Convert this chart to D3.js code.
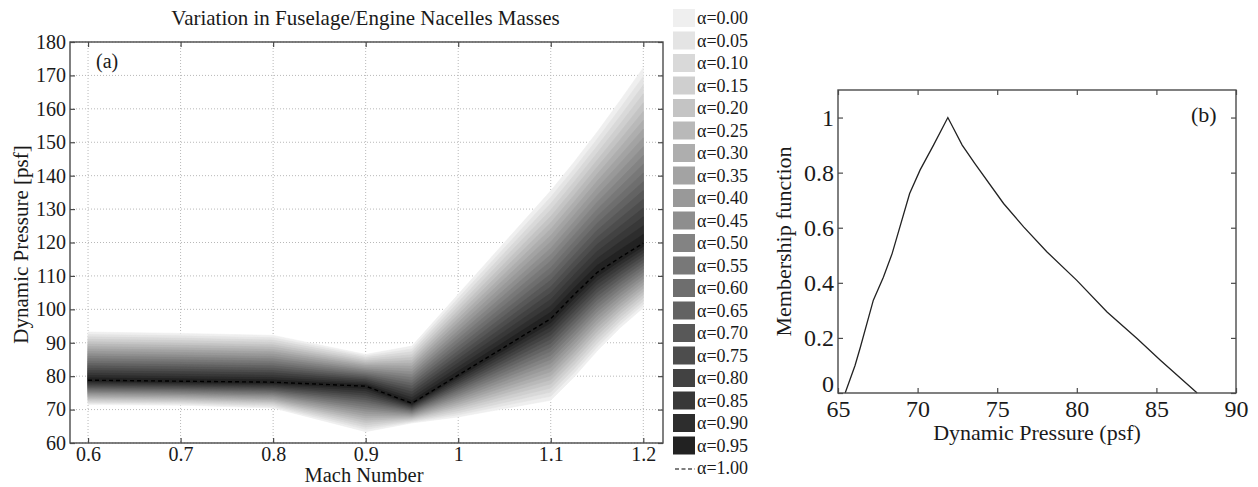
<!DOCTYPE html>
<html>
<head>
<meta charset="utf-8">
<script src="https://cdn.jsdelivr.net/npm/d3@7"></script>
<style>
  body { margin: 0; background: #fff; }
  svg text { font-family: "Liberation Serif", "Times New Roman", serif; fill: #1a1a1a; }
</style>
</head>
<body>
<svg id="chart" width="1258" height="487"></svg>
<script>
// ---- panel (a) data: alpha-cut bounds of dynamic pressure vs Mach ----
const mach      = [0.6, 0.7, 0.8, 0.9, 0.95, 1.0, 1.05, 1.1, 1.125, 1.15, 1.175, 1.2];
const qMode     = [78.8, 78.5, 78.2, 77.0, 71.9, 80.3, 88.7, 97.2, 104.3, 111.0, 115.5, 119.8];
const qLower    = [71.5, 71.3, 70.5, 63.4, 66.0, 67.8, 70.3, 72.8, 79.7, 87.5, 94.5, 100.5];
const qUpper    = [93.2, 92.8, 92.2, 86.5, 89.0, 104.5, 120.0, 135.5, 144.0, 153.0, 162.5, 172.3];
const alphaLevels = [0.00, 0.05, 0.10, 0.15, 0.20, 0.25, 0.30, 0.35, 0.40, 0.45,
                     0.50, 0.55, 0.60, 0.65, 0.70, 0.75, 0.80, 0.85, 0.90, 0.95];
const machTicks = [0.6, 0.7, 0.8, 0.9, 1.0, 1.1, 1.2];
const qTicks    = [60, 70, 80, 90, 100, 110, 120, 130, 140, 150, 160, 170, 180];

// ---- panel (b) data: membership function ----
const memPressure = [65.45, 66.07, 66.4, 67.22, 67.85, 68.4, 69.5, 70.16, 71.0, 71.9,
                     72.8, 73.6, 75.4, 76.66, 78.13, 80.0, 81.9, 83.8, 85.25, 87.56];
const memValue    = [0, 0.10, 0.165, 0.337, 0.42, 0.506, 0.724, 0.81, 0.90, 1.0,
                     0.90, 0.833, 0.688, 0.603, 0.512, 0.409, 0.294, 0.197, 0.119, 0];
const pTicks = [65, 70, 75, 80, 85, 90];
const mTicks = [0, 0.2, 0.4, 0.6, 0.8, 1];

const svg = d3.select("#chart");
const axisColor = "#4a4a4a";

// ================= panel (a) =================
const a = { left: 70, right: 663, top: 42, bottom: 443 };
const xA = d3.scaleLinear().domain([0.5805, 1.2213]).range([a.left, a.right]);
const yA = d3.scaleLinear().domain([60, 180]).range([a.bottom, a.top]);
const gray = d3.scaleLinear().domain([0, 0.95]).range(["#efefef", "#222222"]);

const gA = svg.append("g").attr("class", "panelA");

// grid
const grid = gA.append("g").attr("class", "grid")
  .attr("stroke", "#b8b8b8").attr("stroke-width", 1).attr("stroke-dasharray", "1,2");
grid.selectAll("line.v").data(machTicks).join("line").attr("class", "v")
  .attr("x1", d => xA(d)).attr("x2", d => xA(d)).attr("y1", a.top).attr("y2", a.bottom);
grid.selectAll("line.h").data(qTicks).join("line").attr("class", "h")
  .attr("x1", a.left).attr("x2", a.right).attr("y1", d => yA(d)).attr("y2", d => yA(d));

// alpha-cut bands, widest (lightest) first
const rows = mach.map((m, i) => ({ m, lo: qLower[i], md: qMode[i], hi: qUpper[i] }));
gA.append("g").attr("class", "bands")
  .selectAll("path").data(alphaLevels).join("path")
  .attr("fill", d => gray(d))
  .attr("stroke", d => gray(d)).attr("stroke-width", 0.6)
  .attr("d", al => d3.area()
      .x(r => xA(r.m))
      .y0(r => yA(r.lo + al * (r.md - r.lo)))
      .y1(r => yA(r.hi - al * (r.hi - r.md)))(rows));

// alpha = 1 line
gA.append("path")
  .datum(rows)
  .attr("fill", "none").attr("stroke", "#000").attr("stroke-width", 1.4)
  .attr("stroke-dasharray", "4,3")
  .attr("d", d3.line().x(r => xA(r.m)).y(r => yA(r.md)));

// axes (inward ticks on all sides)
const fsA = "20px";
const axB = gA.append("g").attr("transform", `translate(0,${a.bottom})`)
  .call(d3.axisBottom(xA).tickValues(machTicks).tickFormat(d3.format("")).tickSizeInner(-5).tickSizeOuter(0).tickPadding(4));
const axL = gA.append("g").attr("transform", `translate(${a.left},0)`)
  .call(d3.axisLeft(yA).tickValues(qTicks).tickSizeInner(-5).tickSizeOuter(0).tickPadding(4));
const axT = gA.append("g").attr("transform", `translate(0,${a.top})`)
  .call(d3.axisTop(xA).tickValues(machTicks).tickFormat("").tickSizeInner(-5).tickSizeOuter(0));
const axR = gA.append("g").attr("transform", `translate(${a.right},0)`)
  .call(d3.axisRight(yA).tickValues(qTicks).tickFormat("").tickSizeInner(-5).tickSizeOuter(0));
[axB, axL, axT, axR].forEach(g => {
  g.select(".domain").remove();
  g.selectAll("line").attr("stroke", axisColor).attr("stroke-width", 1.2);
  g.selectAll("text").attr("font-size", fsA).attr("font-family", null).style("fill", "#1a1a1a");
});
gA.append("rect").attr("x", a.left).attr("y", a.top)
  .attr("width", a.right - a.left).attr("height", a.bottom - a.top)
  .attr("fill", "none").attr("stroke", axisColor).attr("stroke-width", 1.4);

gA.append("text").attr("x", (a.left + a.right) / 2 - 1).attr("y", 25)
  .attr("text-anchor", "middle").attr("font-size", "21px")
  .text("Variation in Fuselage/Engine Nacelles Masses");
gA.append("text").attr("x", 364).attr("y", 482)
  .attr("text-anchor", "middle").attr("font-size", "20.5px").text("Mach Number");
gA.append("text").attr("transform", `translate(28,${(a.top + a.bottom) / 2 + 2}) rotate(-90)`)
  .attr("text-anchor", "middle").attr("font-size", "21px").text("Dynamic Pressure [psf]");
gA.append("text").attr("x", 96).attr("y", 68).attr("font-size", fsA).text("(a)");

// legend
const leg = svg.append("g").attr("class", "legend");
const legItems = leg.selectAll("g").data(alphaLevels).join("g")
  .attr("transform", (d, i) => `translate(673,${18 + i * 22.5})`);
legItems.append("rect").attr("x", 0).attr("y", -9).attr("width", 22).attr("height", 18)
  .attr("fill", d => gray(d));
legItems.append("text").attr("x", 24).attr("y", 6).attr("font-size", "18px")
  .text(d => "\u03b1=" + d3.format(".2f")(d));
const last = leg.append("g").attr("transform", `translate(673,${18 + 20 * 22.5})`);
last.append("line").attr("x1", 2).attr("x2", 22).attr("y1", 1).attr("y2", 1)
  .attr("stroke", "#000").attr("stroke-width", 1.2).attr("stroke-dasharray", "4,2.5");
last.append("text").attr("x", 24).attr("y", 6).attr("font-size", "18px").text("\u03b1=1.00");

// ================= panel (b) =================
const b = { left: 838, right: 1236, top: 90, bottom: 393 };
const xB = d3.scaleLinear().domain([65, 90]).range([b.left, b.right]);
const yB = d3.scaleLinear().domain([0, 1.1]).range([b.bottom, b.top]);
const gB = svg.append("g").attr("class", "panelB");
const fsB = "24px";

gB.append("path")
  .datum(memPressure.map((p, i) => [p, memValue[i]]))
  .attr("fill", "none").attr("stroke", "#222").attr("stroke-width", 1.3)
  .attr("d", d3.line().x(d => xB(d[0])).y(d => yB(d[1])));

const bB = gB.append("g").attr("transform", `translate(0,${b.bottom})`)
  .call(d3.axisBottom(xB).tickValues(pTicks).tickSizeInner(-5).tickSizeOuter(0).tickPadding(7));
const bL = gB.append("g").attr("transform", `translate(${b.left},0)`)
  .call(d3.axisLeft(yB).tickValues(mTicks).tickFormat(d3.format("")).tickSizeInner(-5).tickSizeOuter(0).tickPadding(4));
const bT = gB.append("g").attr("transform", `translate(0,${b.top})`)
  .call(d3.axisTop(xB).tickValues(pTicks).tickFormat("").tickSizeInner(-5).tickSizeOuter(0));
const bR = gB.append("g").attr("transform", `translate(${b.right},0)`)
  .call(d3.axisRight(yB).tickValues(mTicks).tickFormat("").tickSizeInner(-5).tickSizeOuter(0));
[bB, bL, bT, bR].forEach(g => {
  g.select(".domain").remove();
  g.selectAll("line").attr("stroke", axisColor).attr("stroke-width", 1.2);
  g.selectAll("text").attr("font-size", fsB).attr("font-family", null).style("fill", "#1a1a1a");
});
// keep the "0" label clear of the "65" below it
bL.selectAll(".tick text").filter(d => d === 0).attr("dy", "-0.05em");
gB.append("rect").attr("x", b.left).attr("y", b.top)
  .attr("width", b.right - b.left).attr("height", b.bottom - b.top)
  .attr("fill", "none").attr("stroke", axisColor).attr("stroke-width", 1.4);

gB.append("text").attr("x", (b.left + b.right) / 2).attr("y", 440)
  .attr("text-anchor", "middle").attr("font-size", "22px").text("Dynamic Pressure (psf)");
gB.append("text").attr("transform", `translate(791,${(b.top + b.bottom) / 2}) rotate(-90)`)
  .attr("text-anchor", "middle").attr("font-size", "22px").text("Membership function");
gB.append("text").attr("x", 1191).attr("y", 122).attr("font-size", "22px").text("(b)");
</script>
</body>
</html>
